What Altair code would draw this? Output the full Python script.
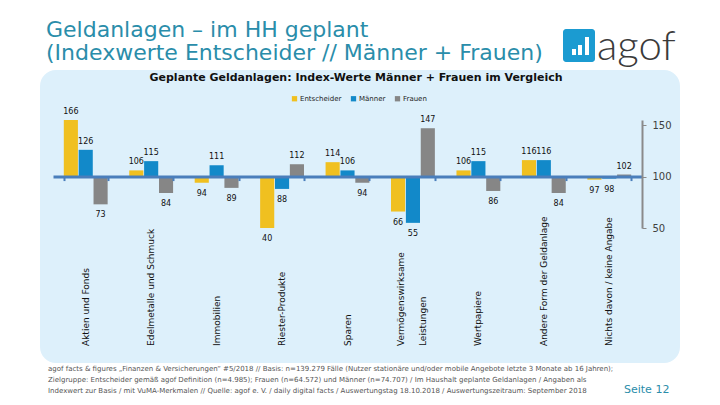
import altair as alt
import pandas as pd

# ---------------- data ----------------
categories = ["Aktien und Fonds", "Edelmetalle und Schmuck", "Immobilien",
              "Riester-Produkte", "Sparen", "Vermögenswirksame Leistungen",
              "Wertpapiere", "Andere Form der Geldanlage", "Nichts davon / keine Angabe"]
cat_labels = ["Aktien und Fonds", "Edelmetalle und Schmuck", "Immobilien",
              "Riester-Produkte", "Sparen", "Vermögenswirksame\nLeistungen",
              "Wertpapiere", "Andere Form der Geldanlage", "Nichts davon / keine Angabe"]
series_names = ["Entscheider", "Männer", "Frauen"]
entscheider = [166, 106, 94, 40, 114, 66, 106, 116, 97]
maenner = [126, 115, 111, 88, 106, 55, 115, 116, 98]
frauen = [73, 84, 89, 112, 94, 147, 86, 84, 102]
y_ticks = [50, 100, 150]

title_lines = ["Geldanlagen – im HH geplant", "(Indexwerte Entscheider // Männer + Frauen)"]
subtitle = "Geplante Geldanlagen: Index-Werte Männer + Frauen im Vergleich"
footer = ("agof facts & figures „Finanzen & Versicherungen“ #5/2018 // Basis: n=139.279 Fälle (Nutzer stationäre und/oder mobile Angebote letzte 3 Monate ab 16 Jahren);\n"
          "Zielgruppe: Entscheider gemäß agof Definition (n=4.985); Frauen (n=64.572) und Männer (n=74.707) / Im Haushalt geplante Geldanlagen / Angaben als\n"
          "Indexwert zur Basis / mit VuMA-Merkmalen // Quelle: agof e. V. / daily digital facts / Auswertungstag 18.10.2018 / Auswertungszeitraum: September 2018")
page = "Seite 12"

rows = []
for i, c in enumerate(categories):
    for s, vals in zip(series_names, [entscheider, maenner, frauen]):
        rows.append({"cat": c, "series": s, "v": vals[i]})
df = pd.DataFrame(rows)
cat_df = pd.DataFrame({"cat": categories, "label": cat_labels})

# ---------------- layout ----------------
W, H = 589, 108
Y_MIN, Y_MAX = 50, 155
BASE = 100
OX, OY = 53, 120  # plot origin in page pixels

def px(x):
    return x - OX

def py(y):
    return y - OY

colors = ["#F0C020", "#1289C9", "#868686"]
TEAL = "#2A8DAA"

xscale = alt.Scale(domain=categories, paddingInner=0.33, paddingOuter=0.165)
xaxis = alt.Axis(orient="bottom", offset=-H * (BASE - Y_MIN) / (Y_MAX - Y_MIN),
                 labels=False, title=None, domainColor="#4A7EBB", domainWidth=3,
                 tickColor="#4A7EBB", tickWidth=2, tickSize=4, tickBand="extent",
                 grid=False, zindex=1)
yscale = alt.Scale(domain=[Y_MIN, Y_MAX], nice=False, zero=False)
yaxis = alt.Axis(orient="right", values=y_ticks, title=None, grid=False,
                 domainColor="#8A8A8A", domainWidth=2, tickColor="#8A8A8A", tickSize=4,
                 labelFontSize=10, labelColor="#404040", labelPadding=6, zindex=1)

x_enc = alt.X("cat:N", sort=categories, scale=xscale, axis=xaxis)
y_enc = alt.Y("yc:Q", scale=yscale, axis=yaxis)
xo_enc = alt.XOffset("series:N", sort=series_names, scale=alt.Scale(domain=series_names, paddingInner=0.05))

one = pd.DataFrame({"a": [0]})

# background panel
panel = alt.Chart(one).mark_rect(color="#DDF0FB", cornerRadius=16).encode(
    x=alt.value(px(40)), x2=alt.value(px(680)), y=alt.value(py(70)), y2=alt.value(py(363)))

base = alt.Chart(df).transform_calculate(yc=f"clamp(datum.v, {Y_MIN}, {Y_MAX})")

bars = base.mark_bar().encode(
    x=x_enc, xOffset=xo_enc, y=y_enc, y2=alt.datum(BASE),
    color=alt.Color("series:N", sort=series_names,
                    scale=alt.Scale(domain=series_names, range=colors),
                    legend=alt.Legend(orient="none", legendX=px(291), legendY=py(95),
                                      direction="horizontal", title=None, symbolType="square",
                                      symbolSize=28, symbolStrokeWidth=0, labelFontSize=7,
                                      labelOffset=2, columnPadding=8, labelColor="#222")))

lab_up = base.transform_filter(f"datum.v >= {BASE}").mark_text(
    fontSize=8, baseline="alphabetic", dy=-6, color="#111").encode(
    x=x_enc, xOffset=xo_enc, y=y_enc, text="v:Q")
lab_dn = base.transform_filter(f"datum.v < {BASE}").mark_text(
    fontSize=8, baseline="top", dy=7, color="#111").encode(
    x=x_enc, xOffset=xo_enc, y=y_enc, text="v:Q")

cat_text1 = alt.Chart(cat_df).transform_filter("indexof(datum.label, '\\n') < 0").mark_text(
    angle=270, align="left", baseline="middle", fontSize=9, color="#111").encode(
    x=alt.X("cat:N", sort=categories, scale=xscale, axis=xaxis),
    y=alt.value(py(346)), text="label:N")
cat_text2 = alt.Chart(cat_df).transform_filter("indexof(datum.label, '\\n') >= 0").mark_text(
    angle=270, align="left", baseline="middle", fontSize=9, lineBreak="\n",
    lineHeight=22, dy=-12, color="#111").encode(
    x=alt.X("cat:N", sort=categories, scale=xscale, axis=xaxis),
    y=alt.value(py(346)), text="label:N")

t1 = alt.Chart(one).mark_text(align="left", baseline="alphabetic", fontSize=22, color=TEAL).encode(
    x=alt.value(px(46)), y=alt.value(py(37)), text=alt.value(title_lines[0]))
t2 = alt.Chart(one).mark_text(align="left", baseline="alphabetic", fontSize=22, color=TEAL).encode(
    x=alt.value(px(46)), y=alt.value(py(60)), text=alt.value(title_lines[1]))
sub = alt.Chart(one).mark_text(align="center", baseline="middle", fontSize=11, fontWeight="bold",
                               color="#111").encode(
    x=alt.value(px(356)), y=alt.value(py(78)), text=alt.value(subtitle))
foot = alt.Chart(one).mark_text(align="left", baseline="top", fontSize=7, lineBreak="\n",
                                lineHeight=11, color="#555").encode(
    x=alt.value(px(48)), y=alt.value(py(365)), text=alt.value(footer))
pg = alt.Chart(one).mark_text(align="left", baseline="middle", fontSize=11, color=TEAL).encode(
    x=alt.value(px(624)), y=alt.value(py(390)), text=alt.value(page))

logo_box = alt.Chart(one).mark_rect(color="#1B9BD1", cornerRadius=3).encode(
    x=alt.value(px(563)), x2=alt.value(px(595)), y=alt.value(py(29)), y2=alt.value(py(62)))
lb1 = alt.Chart(one).mark_rect(color="white").encode(
    x=alt.value(px(572)), x2=alt.value(px(576)), y=alt.value(py(49)), y2=alt.value(py(55)))
lb2 = alt.Chart(one).mark_rect(color="white").encode(
    x=alt.value(px(578)), x2=alt.value(px(582)), y=alt.value(py(45)), y2=alt.value(py(55)))
lb3 = alt.Chart(one).mark_rect(color="white").encode(
    x=alt.value(px(585)), x2=alt.value(px(589)), y=alt.value(py(37)), y2=alt.value(py(55)))
logo_txt = alt.Chart(one).mark_text(align="left", baseline="alphabetic", fontSize=42,
                                    font="Lato", fontWeight=300, color="#3A3A3A").encode(
    x=alt.value(px(597)), y=alt.value(py(60)), text=alt.value("agof"))

chart = alt.layer(panel, bars, lab_up, lab_dn, cat_text1, cat_text2, t1, t2, sub, foot, pg,
                  logo_box, lb1, lb2, lb3, logo_txt).properties(
    width=W, height=H,
    padding={"left": OX, "top": OY, "right": 720 - OX - W, "bottom": 405 - OY - H},
    autosize=alt.AutoSizeParams(type="none"),
    background="white",
).configure_view(stroke=None).configure(font="DejaVu Sans")

chart.save("out.html", embed_options={"renderer": "svg", "actions": False})
